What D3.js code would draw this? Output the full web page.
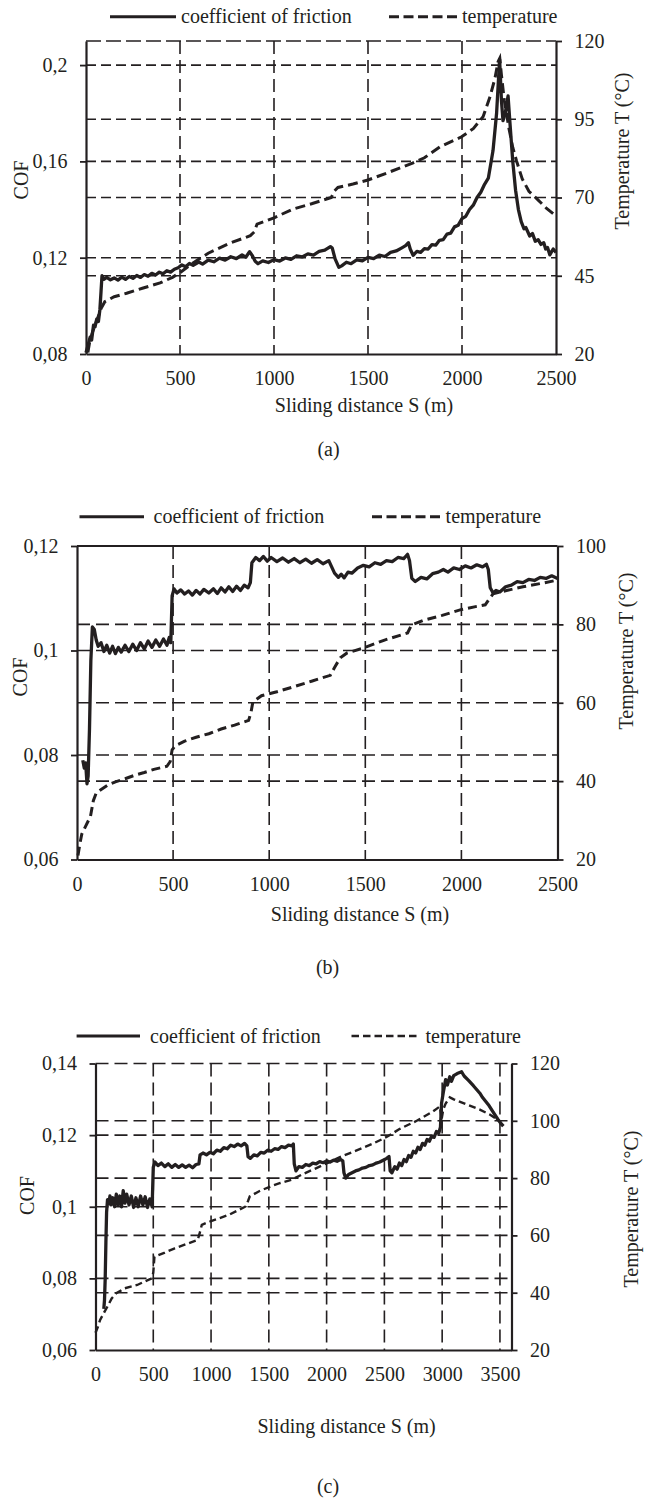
<!DOCTYPE html>
<html>
<head>
<meta charset="utf-8">
<script src="https://cdn.jsdelivr.net/npm/d3@7"></script>
<style>
  body { margin: 0; background: #fff; }
  svg text { font-family: 'Liberation Serif', 'Times New Roman', serif; fill: #231f20; }
</style>
</head>
<body>
<svg id="chart" width="653" height="1499"></svg>
<script>
// ---- panel (a) ----
var aCofS = [0,12,22,30,40,48,57,66,74,80,85,95,110,130,150,170,190,210,230,250,270,290,310,330,350,370,390,410,430,450,470,490,510,530,550,570,600,620,650,680,710,740,770,800,830,850,870,885,900,915,940,970,1000,1030,1060,1090,1120,1150,1180,1210,1240,1270,1300,1310,1325,1345,1360,1385,1410,1440,1470,1500,1530,1560,1590,1620,1650,1680,1700,1715,1725,
  1740,1760,1780,1800,1820,1840,1860,1880,1900,1920,1940,1960,1980,2000,2020,2040,2060,2080,2100,2120,2140,
  2165,2184,2200,2210,2218,2230,2245,2256,2270,2285,2300,
  2315,2330,2340,2360,2375,2390,2405,2420,2435,2445,2455,2467,2485,2500];
var aCofV = [0.0805,0.0840,0.0870,0.0858,0.0920,0.0913,0.0945,0.0935,0.0985,0.1060,0.1125,0.1110,0.1118,0.1108,0.1116,0.1107,0.1119,0.1110,0.1122,0.1114,0.1126,0.1118,0.1130,0.1123,0.1135,0.1128,0.1140,0.1133,0.1146,0.1140,0.1152,0.1158,0.1170,0.1162,0.1176,0.1168,0.1182,0.1173,0.1190,0.1183,0.1198,0.1190,0.1204,0.1196,0.1212,0.1202,0.1225,0.1208,0.1185,0.1175,0.1187,0.1180,0.1192,0.1186,0.1199,0.1193,0.1208,0.1203,0.1216,0.1211,0.1226,0.1231,0.1246,0.1240,0.1195,0.1160,0.1166,0.1181,0.1175,0.1191,0.1187,0.1201,0.1196,0.1211,0.1205,0.1222,0.1228,0.1241,0.1250,0.1262,0.1235,
  0.1210,0.1226,0.1222,0.1238,0.1236,0.1254,0.1252,0.1272,0.1275,0.1298,0.1302,0.1328,0.1335,0.1362,0.1372,0.1400,0.1418,0.1450,0.1472,0.1505,0.1530,
  0.1645,0.1800,0.2024,0.1850,0.1769,0.1800,0.1872,0.1750,0.1600,0.1480,0.1400,
  0.1350,0.1320,0.1325,0.1290,0.1300,0.1268,0.1275,0.1255,0.1262,0.1236,0.1242,0.1212,0.1236,0.1222];
var aTempS = [10,20,35,50,65,80,100,150,216,300,394,460,500,560,650,760,874,895,910,1000,1100,1200,1305,1320,1340,1420,1500,1600,1737,1800,1883,1998,2060,2112,2149,2175,2192,2201,2210,2225,2250,2270,2290,2320,2356,2400,2450,2500];
var aTempV = [20.5,24,27,29.5,32,34.5,36.7,38.3,39.4,41,42.7,44.5,46,48.7,52.2,55.3,57.8,59,61.5,63.5,66.3,68,70,72,73.2,74.3,75.6,77.8,81,82.7,86.2,89.4,92,95.8,102.2,108,113.4,114.5,109,101,92,86,81.7,76,72,69.5,66.5,64.1];
var aCofTicks = [0.08, 0.12, 0.16, 0.2];
var aTempTicks = [20, 45, 70, 95, 120];
var aDistTicks = [0, 500, 1000, 1500, 2000, 2500];

// ---- panel (b) ----
var bCofS = [30,38,45,52,58,65,72,80,90,100,110,125,140,155,170,185,200,215,230,250,270,290,310,330,350,370,390,410,430,450,468,480,488,495,505,520,540,560,580,600,620,640,660,686,710,730,750,770,790,810,830,850,870,890,902,910,930,950,970,990,1010,1040,1070,1100,1130,1160,1190,1220,1250,1280,1310,1325,1340,1360,1375,1390,1410,1430,1460,1490,1520,1550,1580,1610,1640,1670,1700,1720,1730,1742,1760,1790,1820,1850,1880,1906,1930,1960,1990,2020,2050,2080,2110,2130,2140,2150,2165,2180,2200,2230,2260,2290,2320,2350,2380,2410,2440,2470,2500];
var bCofV = [0.0790,0.0775,0.0785,0.0745,0.0760,0.0850,0.0980,0.1045,0.1040,0.1020,0.1008,0.1015,0.0998,0.1010,0.0995,0.1008,0.0994,0.1006,0.0997,0.1010,0.0998,0.1012,0.1000,0.1015,0.1003,0.1018,0.1006,0.1020,0.1008,0.1022,0.1010,0.1025,0.1015,0.1105,0.1118,0.1110,0.1116,0.1108,0.1114,0.1106,0.1115,0.1108,0.1117,0.1110,0.1118,0.1109,0.1120,0.1112,0.1122,0.1113,0.1123,0.1115,0.1125,0.1120,0.1130,0.1168,0.1178,0.1172,0.1180,0.1171,0.1178,0.1170,0.1177,0.1169,0.1176,0.1168,0.1175,0.1167,0.1174,0.1166,0.1172,0.1160,0.1148,0.1140,0.1146,0.1139,0.1150,0.1148,0.1158,0.1163,0.1160,0.1168,0.1165,0.1172,0.1170,0.1178,0.1176,0.1184,0.1172,0.1138,0.1132,0.1140,0.1137,0.1147,0.1150,0.1155,0.1150,0.1158,0.1155,0.1162,0.1158,0.1164,0.1160,0.1165,0.1155,0.1120,0.1110,0.1115,0.1112,0.1122,0.1125,0.1132,0.1130,0.1136,0.1134,0.1140,0.1138,0.1143,0.1138];
var bTempS = [5,15,25,40,55,70,85,100,120,160,200,250,300,350,400,468,485,495,510,560,620,686,750,820,893,905,915,960,1040,1122,1220,1318,1340,1370,1405,1492,1600,1720,1740,1800,1900,1993,2080,2124,2145,2165,2240,2320,2420,2500];
var bTempV = [21,24,26.5,28,29.5,31,35,37,37.7,39,39.8,40.6,41.5,42.2,43,43.8,45,48,49,50.2,51.2,52.1,53.3,54.3,55.5,57.5,60.2,61.8,62.8,64,65.5,67,69,71.5,72.7,74,76,77.8,79.8,81,82.3,83.7,84.6,85,86.5,87.8,88.7,89.6,90.5,91.3];
var bCofTicks = [0.06, 0.08, 0.1, 0.12];
var bTempTicks = [20, 40, 60, 80, 100];
var bDistTicks = [0, 500, 1000, 1500, 2000, 2500];

// ---- panel (c) ----
var cCofS = [72,78,84,90,96,104,115,125,135,150,165,180,195,210,225,240,255,270,290,310,330,350,370,390,410,430,450,470,490,500,515,540,570,600,630,660,690,720,750,780,810,840,870,895,905,930,960,990,1020,1050,1080,1110,1140,1170,1200,1230,1260,1290,1310,1320,1340,1370,1400,1430,1460,1490,1520,1550,1580,1610,1640,1670,1700,1712,1720,1735,1760,1790,1820,1850,1880,1910,1940,1970,2000,2030,2060,2090,2120,2140,2150,2165,2190,2220,2250,2280,2310,2340,2370,2400,2430,2460,2490,2520,2540,
  2550,2565,2590,2610,2630,2650,2670,2690,2710,2730,2750,2770,2790,2810,2830,2850,2870,2890,2910,2930,2950,2970,2985,
  2995,3010,3030,3045,3066,3080,3100,3130,3168,3190,3230,3270,3326,3350,3400,3440,3480,3510,3530];
var cCofV = [0.0715,0.0740,0.0800,0.0900,0.0985,0.1020,0.1008,0.1030,0.1005,0.1025,0.1000,0.1035,0.1005,0.1030,0.1000,0.1045,0.1010,0.1035,0.1005,0.1030,0.0998,0.1025,0.1000,0.1030,0.1005,0.1028,0.0998,0.1022,0.1000,0.1110,0.1125,0.1115,0.1122,0.1112,0.1120,0.1110,0.1118,0.1110,0.1117,0.1110,0.1116,0.1109,0.1118,0.1120,0.1145,0.1150,0.1145,0.1152,0.1148,0.1158,0.1155,0.1165,0.1162,0.1172,0.1168,0.1175,0.1170,0.1177,0.1170,0.1140,0.1135,0.1145,0.1142,0.1152,0.1150,0.1158,0.1155,0.1162,0.1160,0.1168,0.1165,0.1172,0.1170,0.1175,0.1120,0.1100,0.1112,0.1110,0.1118,0.1115,0.1122,0.1120,0.1126,0.1123,0.1128,0.1125,0.1130,0.1127,0.1132,0.1128,0.1095,0.1080,0.1090,0.1095,0.1100,0.1103,0.1108,0.1110,0.1115,0.1117,0.1122,0.1125,0.1130,0.1135,0.1140,
  0.1100,0.1095,0.1112,0.1105,0.1122,0.1115,0.1132,0.1126,0.1143,0.1138,0.1155,0.1150,0.1166,0.1160,0.1177,0.1172,0.1188,0.1183,0.1198,0.1194,0.1210,0.1205,0.1222,
  0.1290,0.1320,0.1355,0.1340,0.1363,0.1350,0.1366,0.1372,0.1377,0.1365,0.1352,0.1338,0.1317,0.1305,0.1285,0.1265,0.1245,0.1232,0.1225];
var cTempS = [0,20,40,60,80,108,140,180,250,361,430,487,500,510,600,686,800,884,900,920,1000,1155,1299,1320,1335,1420,1515,1600,1696,1800,1912,2020,2129,2250,2400,2526,2634,2780,2922,2980,2995,3010,3030,3066,3100,3211,3326,3412,3499,3525];
var cTempV = [26,28,30.5,32,33.5,35.5,38,39.8,41.5,42.7,44,45,47,52.6,54,55.5,57.2,58.4,60.5,63.7,65,67.2,70.1,72,73.6,75.5,77.1,78.3,79.4,81.5,83.5,85.5,87.6,89.5,92,94.5,97.2,100,103.3,105,100.5,104,106,108.2,107.5,105.7,103.9,102.2,99.8,98];
var cCofTicks = [0.06, 0.08, 0.1, 0.12, 0.14];
var cTempTicks = [20, 40, 60, 80, 100, 120];
var cDistTicks = [0, 500, 1000, 1500, 2000, 2500, 3000, 3500];

var svg = d3.select('#chart');
const INK = '#231f20';

function zip(xs, ys) {
  return xs.map(function (s, i) { return [s, ys[i]]; });
}

function DrawPanel(p) {
  const g = svg.append('g');
  const x = d3.scaleLinear().domain(p.distDomain).range([p.left, p.right]);
  const yCof = d3.scaleLinear().domain(p.cofDomain).range([p.bottom, p.top]);
  const yTemp = d3.scaleLinear().domain(p.tempDomain).range([p.bottom, p.top]);
  const comma = function (d) { return String(d).replace('.', ','); };

  // horizontal grid from both axes' ticks
  const hLines = p.cofTicks.map(yCof).concat(p.tempTicks.map(yTemp))
    .filter(function (y) { return y < p.bottom - 1 && y > p.top + 1; });
  g.selectAll('line.hgrid').data(hLines).enter().append('line')
    .attr('x1', p.left).attr('x2', p.right)
    .attr('y1', function (d) { return d; }).attr('y2', function (d) { return d; })
    .attr('stroke', INK).attr('stroke-width', 1.6).attr('stroke-dasharray', p.hDash);

  g.selectAll('line.vgrid').data(p.distTicks.filter(function (d) { return d > 0 && x(d) < p.right - 1; }))
    .enter().append('line')
    .attr('x1', function (d) { return x(d); }).attr('x2', function (d) { return x(d); })
    .attr('y1', p.top).attr('y2', p.bottom)
    .attr('stroke', INK).attr('stroke-width', 1.6).attr('stroke-dasharray', p.vDash);

  g.append('line')
    .attr('x1', p.left).attr('x2', p.right).attr('y1', p.top).attr('y2', p.top)
    .attr('stroke', INK).attr('stroke-width', p.topDash ? 1.6 : 2)
    .attr('stroke-dasharray', p.topDash);

  // series
  const lineCof = d3.line().x(function (d) { return x(d[0]); }).y(function (d) { return yCof(d[1]); });
  const lineTemp = d3.line().x(function (d) { return x(d[0]); }).y(function (d) { return yTemp(d[1]); });

  g.append('path').datum(zip(p.tempS, p.tempV))
    .attr('d', lineTemp).attr('fill', 'none').attr('stroke', INK)
    .attr('stroke-width', p.tempWidth).attr('stroke-dasharray', p.tempDash);

  g.append('path').datum(zip(p.cofS, p.cofV))
    .attr('d', lineCof).attr('fill', 'none').attr('stroke', INK)
    .attr('stroke-width', 3.3).attr('stroke-linejoin', 'round');

  // axes
  const axL = g.append('g').attr('transform', `translate(${p.left},0)`)
    .call(d3.axisLeft(yCof).tickValues(p.cofTicks).tickFormat(comma).tickSizeInner(6).tickSizeOuter(0).tickPadding(12.5));
  const axR = g.append('g').attr('transform', `translate(${p.right},0)`)
    .call(d3.axisRight(yTemp).tickValues(p.tempTicks).tickSizeInner(6).tickSizeOuter(0).tickPadding(12.5));
  const axB = g.append('g').attr('transform', `translate(0,${p.bottom})`)
    .call(d3.axisBottom(x).tickValues(p.distTicks).tickFormat(d3.format('d')).tickSize(0).tickPadding(17));
  [axL, axR, axB].forEach(function (ax) {
    ax.select('.domain').attr('stroke', INK).attr('stroke-width', 2.2);
    ax.selectAll('.tick line').attr('stroke', INK).attr('stroke-width', 1.8);
    ax.selectAll('.tick text').attr('font-size', 20).attr('fill', INK)
      .style('font-family', "'Liberation Serif', 'Times New Roman', serif");
  });

  // axis titles
  g.append('text').attr('transform', `translate(${p.cofTitle[0]},${p.cofTitle[1]}) rotate(-90)`)
    .attr('text-anchor', 'middle').attr('font-size', 20).text('COF');
  g.append('text').attr('transform', `translate(${p.tempTitle[0]},${p.tempTitle[1]}) rotate(-90)`)
    .attr('text-anchor', 'middle').attr('font-size', 20).text('Temperature T (°C)');
  g.append('text').attr('x', p.distTitle[0]).attr('y', p.distTitle[1])
    .attr('text-anchor', 'middle').attr('font-size', 20).text('Sliding distance S (m)');
  g.append('text').attr('x', p.caption[0]).attr('y', p.caption[1])
    .attr('text-anchor', 'middle').attr('font-size', 20).text(p.captionText);

  // legend
  const lg = p.legend;
  g.append('line').attr('x1', lg.solid[0]).attr('x2', lg.solid[1]).attr('y1', lg.y).attr('y2', lg.y)
    .attr('stroke', INK).attr('stroke-width', 3);
  g.append('text').attr('x', lg.solidText).attr('y', lg.y + 6.5).attr('font-size', 20).text('coefficient of friction');
  g.append('line').attr('x1', lg.dash[0]).attr('x2', lg.dash[1]).attr('y1', lg.y).attr('y2', lg.y)
    .attr('stroke', INK).attr('stroke-width', p.tempWidth).attr('stroke-dasharray', lg.dashPattern);
  g.append('text').attr('x', lg.dashText).attr('y', lg.y + 6.5).attr('font-size', 20).text('temperature');
}

DrawPanel({
  left: 86, right: 556, top: 41, bottom: 354,
  distDomain: [0, 2500], cofDomain: [0.08, 0.21], tempDomain: [20, 120],
  cofTicks: aCofTicks, tempTicks: aTempTicks, distTicks: aDistTicks,
  cofS: aCofS, cofV: aCofV, tempS: aTempS, tempV: aTempV,
  hDash: '10,5', vDash: '13,6', topDash: '15,5', tempDash: '10,5', tempWidth: 3,
  cofTitle: [27.5, 180], tempTitle: [629, 151], distTitle: [364, 411.5], caption: [328.5, 456], captionText: '(a)',
  legend: { y: 16.7, solid: [110, 176], solidText: 181, dash: [389, 460], dashText: 462, dashPattern: '10,4.5' }
});

DrawPanel({
  left: 77, right: 557.5, top: 546, bottom: 859.5,
  distDomain: [0, 2500], cofDomain: [0.06, 0.12], tempDomain: [20, 100],
  cofTicks: bCofTicks, tempTicks: bTempTicks, distTicks: bDistTicks,
  cofS: bCofS, cofV: bCofV, tempS: bTempS, tempV: bTempV,
  hDash: '13,6', vDash: '13,6', topDash: null, tempDash: '9,5', tempWidth: 3,
  cofTitle: [27, 677], tempTitle: [633, 651], distTitle: [360, 921], caption: [327.6, 974], captionText: '(b)',
  legend: { y: 516.7, solid: [79.5, 144], solidText: 153.5, dash: [372, 443.5], dashText: 445.6, dashPattern: '10,4.5' }
});

DrawPanel({
  left: 95.5, right: 511.5, top: 1063.5, bottom: 1350,
  distDomain: [0, 3600], cofDomain: [0.06, 0.14], tempDomain: [20, 120],
  cofTicks: cCofTicks, tempTicks: cTempTicks, distTicks: cDistTicks,
  cofS: cCofS, cofV: cCofV, tempS: cTempS, tempV: cTempV,
  hDash: '13,6', vDash: '13,6', topDash: '13,6', tempDash: '7,4', tempWidth: 2.4,
  cofTitle: [33.5, 1195.5], tempTitle: [638, 1209], distTitle: [346.6, 1433], caption: [328, 1493], captionText: '(c)',
  legend: { y: 1036, solid: [76.6, 140], solidText: 150, dash: [351.5, 420.5], dashText: 425.5, dashPattern: '7.5,4' }
});
</script>
</body>
</html>
